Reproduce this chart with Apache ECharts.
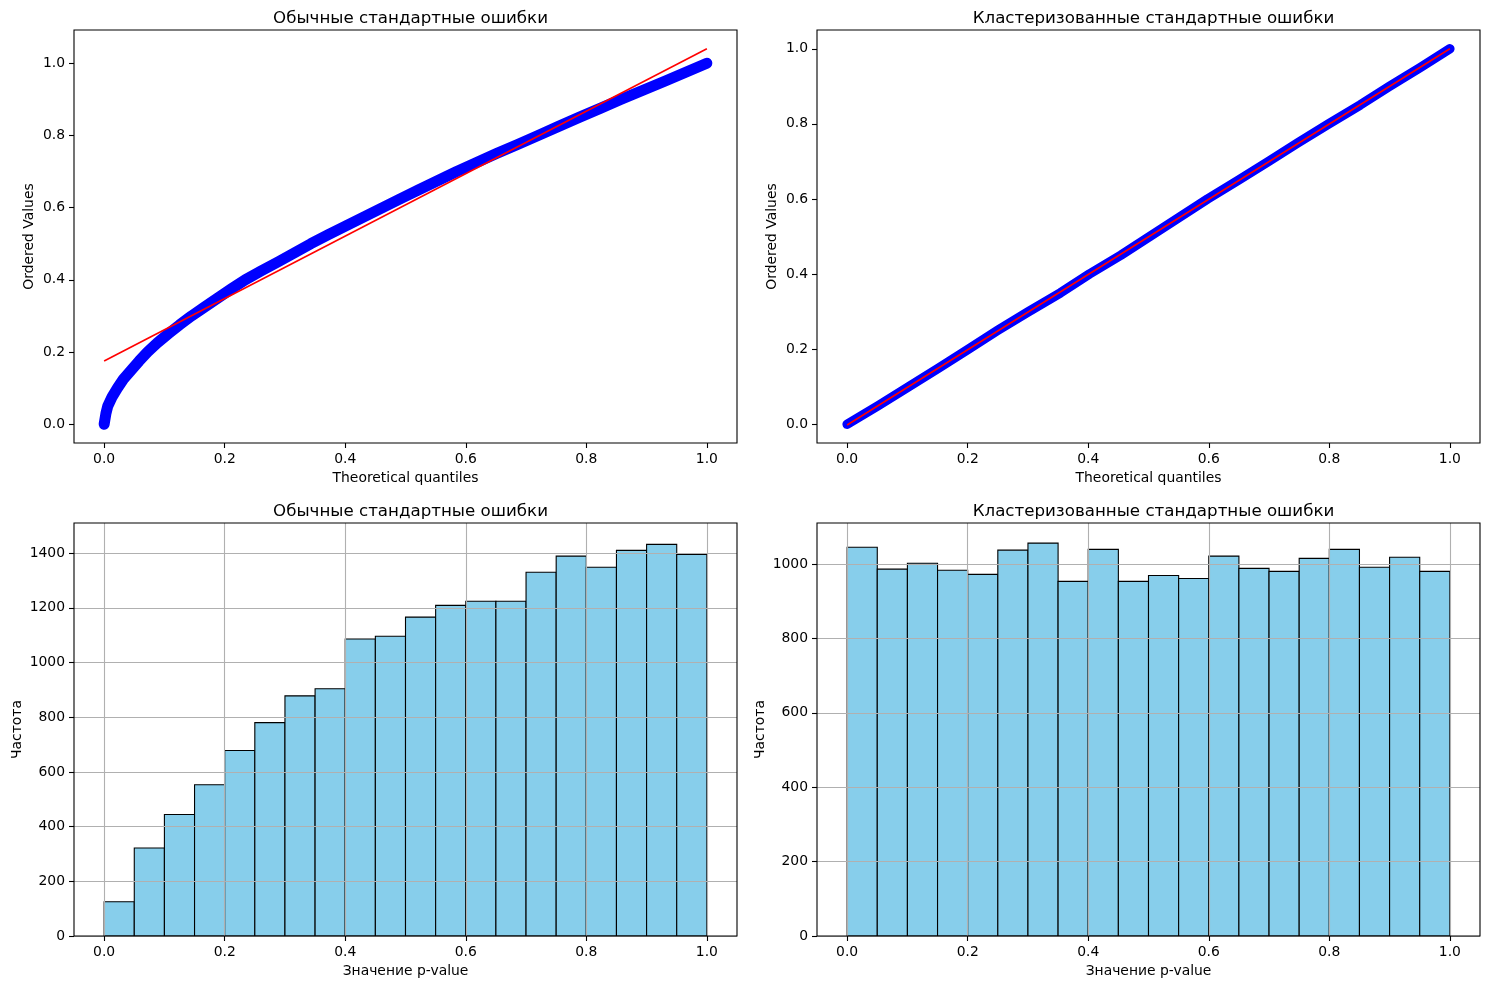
<!DOCTYPE html>
<html>
<head>
<meta charset="utf-8">
<script src="https://cdn.jsdelivr.net/npm/echarts@6/dist/echarts.min.js"></script>
<style>html,body{margin:0;padding:0;background:#fff}#c{width:1489px;height:989px}</style>
</head>
<body>
<div id="c"></div>
<script>
// ---- Data ----
const titles = ['Обычные стандартные ошибки', 'Кластеризованные стандартные ошибки'];
const qqLeftX = [0, 0.001, 0.003, 0.006, 0.013, 0.022, 0.032, 0.045, 0.058, 0.072, 0.088, 0.106, 0.125, 0.145, 0.167, 0.189, 0.211, 0.234, 0.261, 0.289, 0.316, 0.343, 0.372, 0.402, 0.432, 0.462, 0.492, 0.523, 0.554, 0.585, 0.618, 0.651, 0.686, 0.720, 0.754, 0.788, 0.823, 0.858, 0.894, 0.930, 0.965, 1.0];
const qqLeftY = [0, 0.01, 0.03, 0.05, 0.075, 0.10, 0.125, 0.15, 0.175, 0.2, 0.225, 0.25, 0.275, 0.3, 0.325, 0.35, 0.375, 0.4, 0.425, 0.45, 0.475, 0.5, 0.525, 0.55, 0.575, 0.6, 0.625, 0.65, 0.675, 0.7, 0.725, 0.75, 0.775, 0.8, 0.825, 0.85, 0.875, 0.9, 0.925, 0.95, 0.975, 1.0];
const fitLeftX = [0, 1];
const fitLeftY = [0.175, 1.04];
const qqRightX = [0, 0.052, 0.102, 0.152, 0.201, 0.250, 0.301, 0.354, 0.402, 0.454, 0.502, 0.550, 0.598, 0.649, 0.699, 0.748, 0.799, 0.851, 0.900, 0.951, 1.0];
const qqRightY = [0, 0.05, 0.10, 0.15, 0.20, 0.25, 0.30, 0.35, 0.40, 0.45, 0.50, 0.55, 0.60, 0.65, 0.70, 0.75, 0.80, 0.85, 0.90, 0.95, 1.0];
const fitRightX = [0, 1];
const fitRightY = [-0.002, 1.0];
const binEdges = [0, 0.05, 0.10, 0.15, 0.20, 0.25, 0.30, 0.35, 0.40, 0.45, 0.50, 0.55, 0.60, 0.65, 0.70, 0.75, 0.80, 0.85, 0.90, 0.95, 1.0];
const countsLeft = [125, 322, 444, 553, 678, 780, 878, 904, 1086, 1096, 1166, 1209, 1224, 1224, 1330, 1389, 1348, 1410, 1432, 1395];
const countsRight = [1045, 986, 1002, 983, 972, 1037, 1056, 953, 1039, 953, 969, 961, 1021, 988, 980, 1015, 1039, 991, 1018, 980];
const pTicks = [0, 0.2, 0.4, 0.6, 0.8, 1.0];
const histTicksLeft = [0, 200, 400, 600, 800, 1000, 1200, 1400];
const histTicksRight = [0, 200, 400, 600, 800, 1000];

// ---- Build ----
const FONT = 'DejaVu Sans';
const FS = 13.9;
const zip = (a, b) => a.map((v, i) => [v, b[i]]);
const histData = c => c.map((v, i) => [binEdges[i], binEdges[i + 1], v]);

const grids = [
  {left: 74, top: 30, width: 663, height: 413},
  {left: 817, top: 30, width: 663, height: 413},
  {left: 74, top: 523, width: 663, height: 413},
  {left: 817, top: 523, width: 663, height: 413}
].map(g => Object.assign(g, {show: true, borderColor: '#000', borderWidth: 1.1, backgroundColor: 'transparent', z: 6, containLabel: false}));

function xAxis(idx, name, min, max, ticks, grid) {
  return {
    type: 'value', gridIndex: idx, min, max, z: 5, position: 'bottom',
    name, nameLocation: 'middle', nameGap: 28,
    nameTextStyle: {fontFamily: FONT, fontSize: FS, color: '#000'},
    axisLine: {show: false, onZero: false},
    axisTick: {show: true, inside: false, length: 5, lineStyle: {color: '#000', width: 1.1}, customValues: ticks},
    axisLabel: {show: true, margin: 9, fontFamily: FONT, fontSize: FS, color: '#000', customValues: ticks,
      formatter: v => v.toFixed(1)},
    splitLine: {show: grid, lineStyle: {color: '#b0b0b0', width: 1.1}}
  };
}
function yAxis(idx, name, min, max, ticks, grid, fmt, gap) {
  return {
    type: 'value', gridIndex: idx, min, max, z: 5, position: 'left',
    name, nameLocation: 'middle', nameGap: gap, nameRotate: 90,
    nameTextStyle: {fontFamily: FONT, fontSize: FS, color: '#000'},
    axisLine: {show: false, onZero: false},
    axisTick: {show: true, inside: false, length: 5, lineStyle: {color: '#000', width: 1.1}, customValues: ticks},
    axisLabel: {show: true, margin: 9, fontFamily: FONT, fontSize: FS, color: '#000', customValues: ticks, formatter: fmt},
    splitLine: {show: grid, lineStyle: {color: '#b0b0b0', width: 1.1}}
  };
}
const f1 = v => v.toFixed(1);
const f0 = v => String(Math.round(v));

function hist(idx, counts) {
  return {
    type: 'custom', xAxisIndex: idx, yAxisIndex: idx, z: 2,
    data: histData(counts),
    renderItem: (params, api) => {
      const p0 = api.coord([api.value(0), api.value(2)]);
      const p1 = api.coord([api.value(1), 0]);
      return {type: 'rect', shape: {x: p0[0], y: p0[1], width: p1[0] - p0[0], height: p1[1] - p0[1]},
        style: {fill: '#87CEEB', stroke: '#000', lineWidth: 1.1}};
    }
  };
}
function band(idx, xs, ys, w) {
  return {type: 'line', xAxisIndex: idx, yAxisIndex: idx, data: zip(xs, ys), showSymbol: false, symbol: 'none',
    lineStyle: {color: '#0000ff', width: w, cap: 'round', join: 'round'}, z: 2, animation: false, silent: true};
}
function fit(idx, xs, ys) {
  return {type: 'line', xAxisIndex: idx, yAxisIndex: idx, data: zip(xs, ys), showSymbol: false, symbol: 'none',
    lineStyle: {color: '#ff0000', width: 1.6}, z: 3, animation: false, silent: true};
}

const titleStyle = {fontFamily: FONT, fontSize: 16.67, fontWeight: 'normal', color: '#000'};
const option = {
  animation: false,
  backgroundColor: '#fff',
  title: [
    {text: titles[0], left: 405.5, top: 5, textAlign: 'center', textStyle: titleStyle},
    {text: titles[1], left: 1148.5, top: 5, textAlign: 'center', textStyle: titleStyle},
    {text: titles[0], left: 405.5, top: 498, textAlign: 'center', textStyle: titleStyle},
    {text: titles[1], left: 1148.5, top: 498, textAlign: 'center', textStyle: titleStyle}
  ],
  grid: grids,
  xAxis: [
    xAxis(0, 'Theoretical quantiles', -0.05, 1.05, pTicks, false),
    xAxis(1, 'Theoretical quantiles', -0.05, 1.05, pTicks, false),
    xAxis(2, 'Значение p-value', -0.05, 1.05, pTicks, true),
    xAxis(3, 'Значение p-value', -0.05, 1.05, pTicks, true)
  ],
  yAxis: [
    yAxis(0, 'Ordered Values', -0.052, 1.092, pTicks, false, f1, 38),
    yAxis(1, 'Ordered Values', -0.05, 1.05, pTicks, false, f1, 38),
    yAxis(2, 'Частота', 0, 1510, histTicksLeft, true, f0, 50),
    yAxis(3, 'Частота', 0, 1110, histTicksRight, true, f0, 50)
  ],
  series: [
    band(0, qqLeftX, qqLeftY, 11), fit(0, fitLeftX, fitLeftY),
    band(1, qqRightX, qqRightY, 9.5), fit(1, fitRightX, fitRightY),
    hist(2, countsLeft), hist(3, countsRight)
  ]
};
const chart = echarts.init(document.getElementById('c'), null, {renderer: 'canvas'});
chart.setOption(option);
</script>
</body>
</html>
